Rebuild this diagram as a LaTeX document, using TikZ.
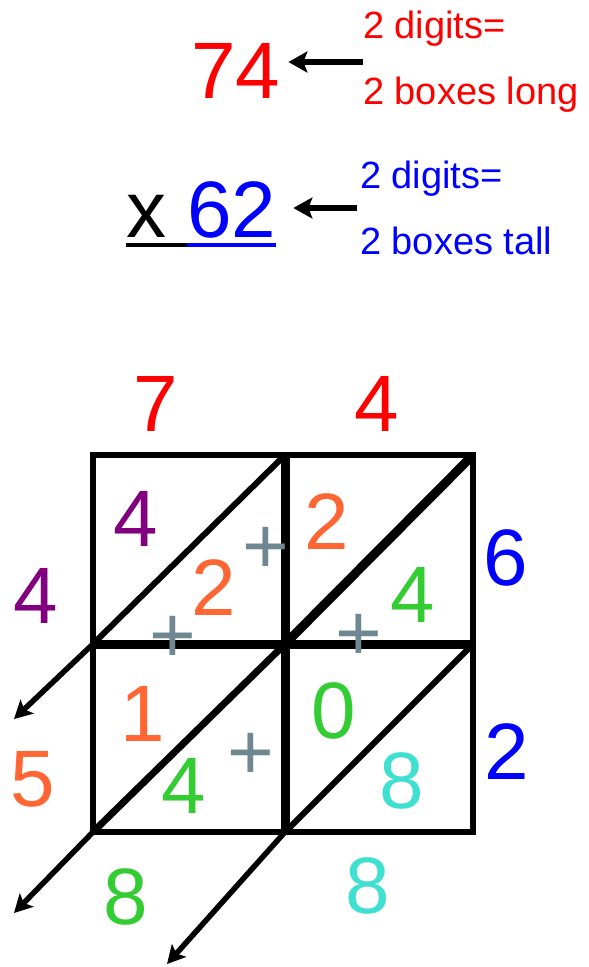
\documentclass[tikz,border=0pt]{standalone}
\usepackage{fontspec}
\setmainfont{Liberation Sans}
\usetikzlibrary{arrows.meta, calc}

\definecolor{lpurple}{RGB}{128,0,128}
\definecolor{lorange}{RGB}{255,102,51}
\definecolor{lgreen}{RGB}{51,204,51}
\definecolor{lcyan}{RGB}{64,224,208}
\definecolor{lgray}{RGB}{110,135,145}

\begin{document}
\begin{tikzpicture}[x=1pt, y=-1pt,
    digit/.style={inner sep=0pt, font=\fontsize{80}{80}\selectfont},
    note/.style={inner sep=0pt, align=left, font=\fontsize{38}{66}\selectfont},
    plus/.style={digit, text=lgray},
    cell/.style={line width=6pt},
    midline/.style={line width=9pt},
    pointer/.style={line width=6pt, -{Stealth[length=19pt, width=21pt, inset=4pt]}},
    spill/.style={line width=5.5pt, -{Stealth[length=18pt, width=19pt, inset=4pt]}}]
\useasboundingbox (0,0) rectangle (589,967);

% the sum
\node[digit, red, anchor=base west] (n74) at (191,98) {74};
\node[note, red, anchor=west] (long) at (363,62) {2 digits=\\2 boxes long};
\draw[pointer, shorten >=8pt] (long.west) -- (long.west -| n74.east);

\node[digit, anchor=base west] (times) at (126,237) {x};
\node[digit, blue, anchor=base west] (n62) at (187,237) {62};
\node[note, blue, anchor=west] (tall) at (360,208) {2 digits=\\2 boxes tall};
\draw[pointer, shorten >=17pt, shorten <=3pt] (tall.west) -- (tall.west -| n62.east);
\draw[line width=4.5pt] ($(times.base west)+(0,8)$) -- ($(n62.base west)+(0,8)$);
\draw[line width=4.5pt, blue] ($(n62.base west)+(0,8)$) -- ($(n62.base east)+(0,8)$);

% lattice
\coordinate (g00) at (93,455);  \coordinate (g10) at (285,455);  \coordinate (g20) at (473,455);
\coordinate (g01) at (93,644);  \coordinate (g11) at (285,644);  \coordinate (g21) at (473,644);
\coordinate (g02) at (93,832);  \coordinate (g12) at (285,832);  \coordinate (g22) at (473,832);
\coordinate (s1) at (14,719);
\coordinate (s2) at (14,913);
\coordinate (s3) at (167,964);

\draw[cell] (g00) rectangle (g22);
\draw[midline] (g10) -- (g12);
\draw[midline] (g01) -- (g21);
\draw[cell] (g01) -- (g10);
\draw[cell, line width=9pt] (g11) -- (g20);
\draw[cell, line width=7pt] (g02) -- (g11);
\draw[cell] (g12) -- (g21);
\draw[spill] (g01) -- (s1);
\draw[spill] (g02) -- (s2);
\draw[spill] (g12) -- (s3);

\node[digit, red] (top7) at (156,404) {7};
\node[digit, red] (top4) at (377,404) {4};
\node[digit, blue] (side6) at (506,558) {6};
\node[digit, blue] (side2) at (507,752) {2};

\node[digit, lpurple] (a1) at (136,519) {4};
\node[digit, lorange] (a2) at (214,588) {2};
\node[digit, lorange] (b1) at (327,522) {2};
\node[digit, lgreen] (b2) at (413,595) {4};
\node[digit, lorange] (c1) at (143,714) {1};
\node[digit, lgreen] (c2) at (184,786) {4};
\node[digit, lgreen] (d1) at (334,711) {0};
\node[digit, lcyan] (d2) at (402,781) {8};

\node[plus] (p1) at (266,550) {+};
\node[plus] (p2) at (173,639) {+};
\node[plus] (p3) at (359,637) {+};
\node[plus] (p4) at (251,756) {+};

\node[digit, lpurple] (sum1) at (36,596) {4};
\node[digit, lorange] (sum2) at (33,779) {5};
\node[digit, lgreen] (sum3) at (126,897) {8};
\node[digit, lcyan] (sum4) at (368,886) {8};
\end{tikzpicture}
\end{document}
